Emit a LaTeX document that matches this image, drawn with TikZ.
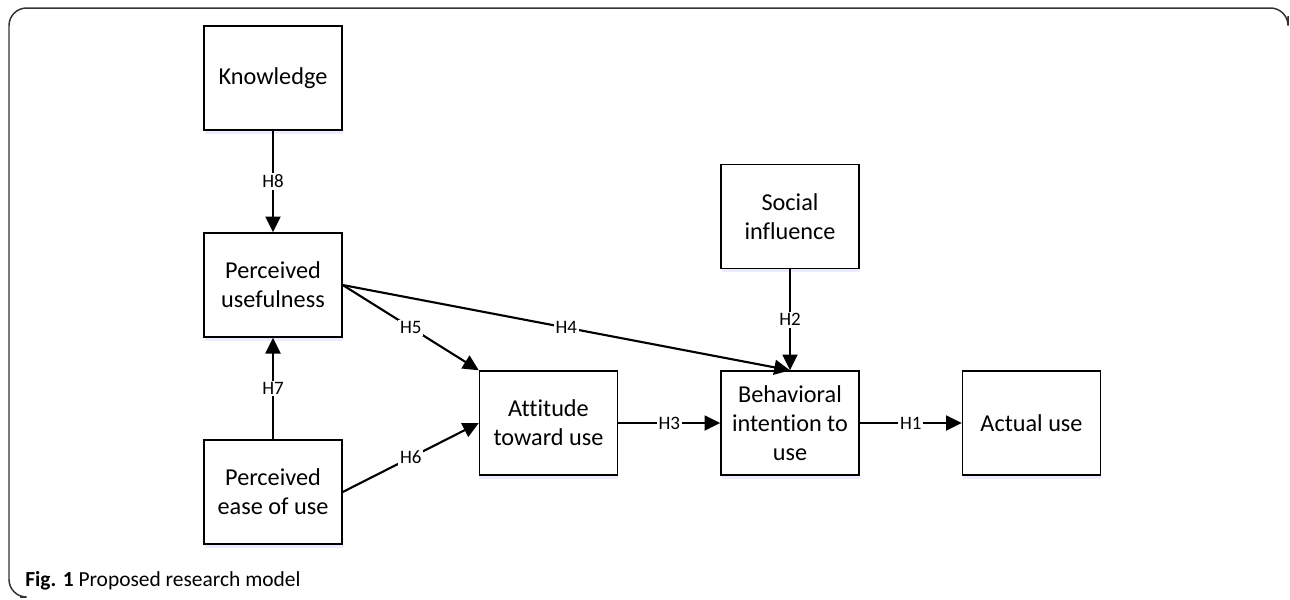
\documentclass[tikz,border=0pt]{standalone}
\usepackage{fontspec}
\setmainfont{Carlito}[Ligatures=NoCommon]
\usetikzlibrary{arrows.meta,shadows}

\begin{document}
\begin{tikzpicture}
[x=0.02cm,y=-0.02cm,>={Triangle[length=9pt,width=8.5pt]},
box/.style={draw,line width=0.8pt,fill=white,minimum width=2.76cm,minimum height=2.08cm,align=center,
  font=\fontsize{13.8}{16.5}\selectfont,
  drop shadow={fill=blue!12,opacity=0.6,shadow xshift=0.5pt,shadow yshift=-2pt}},
hyp/.style={fill=white,inner sep=1pt,font=\fontsize{10.8}{12}\selectfont},
link/.style={->,line width=1.2pt},]
\useasboundingbox (0,0) rectangle (1290,599);
% outer frame
\draw[line width=0.85pt,black!80,rounded corners=10] (20,597) -- (9,597) -- (9,8) -- (1288,8) -- (1288,16);

\node (K) at (273,78)[box]{Knowledge};
\node (PU) at (273,285)[box]{Perceived\\usefulness};
\node (PEOU) at (273,492)[box]{Perceived\\ease of use};
\node (AT) at (548.5,423)[box]{Attitude\\toward use};
\node (SI) at (790,216.5)[box]{Social\\influence};
\node (BI) at (790,423)[box]{Behavioral\\intention to\\use};
\node (AU) at (1031.5,423)[box]{Actual use};

\draw[link] (K) -- node[hyp]{H8} (PU);
\draw[link] (PEOU) -- node[hyp]{H7} (PU);
\draw[link] (PU.east) -- node[hyp]{H5} (AT.north west);
\draw[link] (PU.east) -- node[hyp]{H4} (BI.north);
\draw[link] (PEOU.east) -- node[hyp]{H6} (AT.west);
\draw[link] (SI) -- node[hyp]{H2} (BI);
\draw[link] (AT) -- node[hyp]{H3} (BI);
\draw[link] (BI) -- node[hyp]{H1} (AU);

\node (cap) at (25,586)[anchor=base west,inner sep=0pt,font=\fontsize{12.2}{14}\selectfont]{\textbf{Fig. 1} Proposed research model};
\end{tikzpicture}
\end{document}
